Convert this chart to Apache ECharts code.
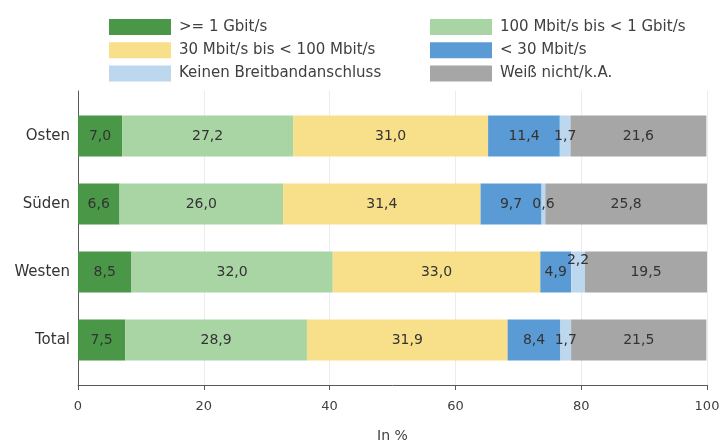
<!DOCTYPE html>
<html>
<head>
<meta charset="utf-8">
<script src="https://cdn.jsdelivr.net/npm/echarts@6/dist/echarts.min.js"></script>
<style>html,body{margin:0;padding:0;background:#fff}#c{width:722px;height:443px}</style>
</head>
<body>
<div id="c"></div>
<script>
const categories = ['Osten', 'Süden', 'Westen', 'Total'];
const seriesNames = ['>= 1 Gbit/s', '100 Mbit/s bis < 1 Gbit/s', '30 Mbit/s bis < 100 Mbit/s', '< 30 Mbit/s', 'Keinen Breitbandanschluss', 'Weiß nicht/k.A.'];
const gbit = [7.0, 6.6, 8.5, 7.5];
const mbit100 = [27.2, 26.0, 32.0, 28.9];
const mbit30 = [31.0, 31.4, 33.0, 31.9];
const below30 = [11.4, 9.7, 4.9, 8.4];
const noBroadband = [1.7, 0.6, 2.2, 1.7];
const unknown = [21.6, 25.8, 19.5, 21.5];
const xTicks = [0, 20, 40, 60, 80, 100];

const colors = ['#4a9748', '#a9d5a5', '#f8e08a', '#5a9bd5', '#bdd7ee', '#a6a6a6'];
const FONT = 'DejaVu Sans';
const values = [gbit, mbit100, mbit30, below30, noBroadband, unknown];

const series = values.map((arr, si) => ({
  name: seriesNames[si],
  type: 'bar',
  stack: 'total',
  xAxisIndex: 1,
  yAxisIndex: 1,
  barWidth: 41,
  itemStyle: { color: colors[si] },
  label: {
    show: true,
    position: 'inside',
    color: '#333',
    fontFamily: FONT,
    fontSize: 14,
    formatter: p => p.value.toFixed(1).replace('.', ',')
  },
  labelLayout: p => (si === 4 && p.dataIndex === 2) ? { dy: -12, hideOverlap: false } : { hideOverlap: false },
  data: arr
}));

const legendCommon = {
  orient: 'vertical', top: 14,
  icon: 'rect',
  itemWidth: 62, itemHeight: 16, itemGap: 7.3,
  textStyle: { fontFamily: FONT, fontSize: 15, color: '#404040', padding: [0, 0, 0, 3] },
  selectedMode: false
};

const chart = echarts.init(document.getElementById('c'), null, { renderer: 'canvas' });
chart.setOption({
  animation: false,
  backgroundColor: '#fff',
  legend: [
    Object.assign({}, legendCommon, { left: 104, data: [seriesNames[0], seriesNames[2], seriesNames[4]] }),
    Object.assign({}, legendCommon, { left: 425, data: [seriesNames[1], seriesNames[3], seriesNames[5]] })
  ],
  grid: [
    { left: 78, right: 15, top: 91, bottom: 58, containLabel: false, outerBoundsMode: 'none' },
    { left: 78, right: 15, top: 102, bottom: 69, containLabel: false, outerBoundsMode: 'none' }
  ],
  xAxis: [
    {
      gridIndex: 0, type: 'value', min: xTicks[0], max: xTicks[xTicks.length - 1], interval: 20,
      name: 'In %', nameLocation: 'middle', nameGap: 44,
      nameTextStyle: { fontFamily: FONT, fontSize: 14, color: '#404040' },
      axisLine: { show: true, lineStyle: { color: '#595959', width: 1 } },
      axisTick: { show: true, length: 5, lineStyle: { color: '#595959' } },
      axisLabel: { fontFamily: FONT, fontSize: 13, color: '#404040', margin: 15 },
      splitLine: { show: true, lineStyle: { color: '#ececec', width: 1 } }
    },
    {
      gridIndex: 1, type: 'value', min: 0, max: 100, show: false
    }
  ],
  yAxis: [
    {
      gridIndex: 0, type: 'category', data: categories, inverse: true,
      axisLine: { show: true, lineStyle: { color: '#595959', width: 1 } },
      axisTick: { show: false }, axisLabel: { show: false }, splitLine: { show: false }
    },
    {
      gridIndex: 1, type: 'category', data: categories, inverse: true,
      axisLine: { show: false }, axisTick: { show: false },
      axisLabel: { fontFamily: FONT, fontSize: 15, color: '#333', margin: 8 }
    }
  ],
  series: series
});
</script>
</body>
</html>
